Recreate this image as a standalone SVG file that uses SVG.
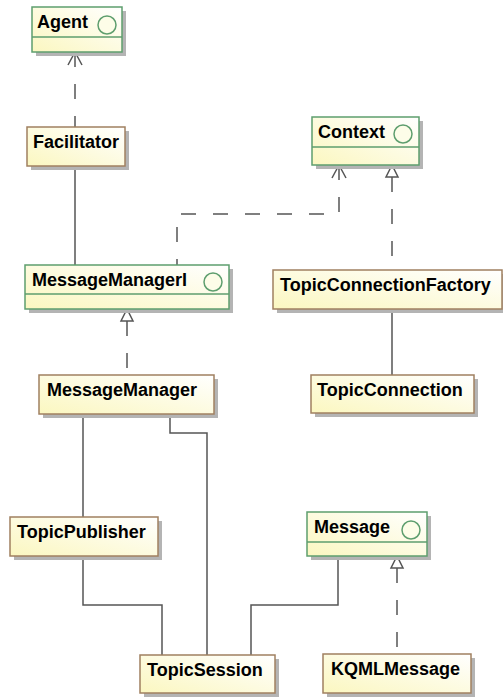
<svg xmlns="http://www.w3.org/2000/svg" width="503" height="697" viewBox="0 0 503 697">
<defs>
<linearGradient id="fill" x1="0" y1="1" x2="1" y2="0">
<stop offset="0" stop-color="#FBF7C0"/>
<stop offset="1" stop-color="#FFFFFF"/>
</linearGradient>
<style>
.box{fill:url(#fill);stroke-width:1.5}
.cls{stroke:#A08060}
.ifc{stroke:#5E9E6E}
.sh{fill:#B4B4B4;stroke:none}
.lbl{font-family:"Liberation Sans",Arial,sans-serif;font-weight:bold;font-size:18px;fill:#000}
.ic{fill:#FDFDE8;stroke:#5E9E6E;stroke-width:1.5}
.ln{fill:none;stroke:#555;stroke-width:1.5}
.dash{stroke-dasharray:15 17}
.head{fill:none;stroke:#555;stroke-width:1.5}
.tri{fill:#fff;stroke:#555;stroke-width:1.5}
</style>
</defs>
<g id="connectors">
<path class="ln dash" d="M75,52 V127"/>
<path class="head" d="M68,65 L75,52 L82,65"/>
<path class="ln" d="M75,166 V265"/>
<path class="ln dash" d="M339,165 V214 H177 V265"/>
<path class="head" d="M332,178 L339,165 L346,178"/>
<path class="ln dash" d="M392,177 V270"/>
<path class="tri" d="M392,165 L386,177 L398,177 Z"/>
<path class="ln" d="M392,309 V375"/>
<path class="ln dash" d="M127,321 V375"/>
<path class="tri" d="M127,309 L121,321 L133,321 Z"/>
<path class="ln" d="M83,414 V517"/>
<path class="ln" d="M170,414 V433 H207 V655"/>
<path class="ln" d="M83,556 V605 H162 V655"/>
<path class="ln" d="M251,655 V605 H338 V556"/>
<path class="ln dash" d="M397,568 V654"/>
<path class="tri" d="M397,556 L391,568 L403,568 Z"/>
</g>
<g id="Agent">
<rect class="sh" x="36" y="11" width="90" height="45"/>
<rect class="box ifc" x="32" y="7" width="90" height="45"/>
<line class="ifc" x1="32" y1="37" x2="122" y2="37" stroke-width="1.5"/>
<text class="lbl" x="37" y="28">Agent</text>
<circle class="ic" cx="107" cy="25" r="9"/>
</g>
<g id="Facilitator">
<rect class="sh" x="31" y="131" width="98" height="39"/>
<rect class="box cls" x="27" y="127" width="98" height="39"/>
<text class="lbl" x="33" y="148">Facilitator</text>
</g>
<g id="Context">
<rect class="sh" x="316" y="121" width="107" height="48"/>
<rect class="box ifc" x="312" y="117" width="107" height="48"/>
<line class="ifc" x1="312" y1="147" x2="419" y2="147" stroke-width="1.5"/>
<text class="lbl" x="318" y="138">Context</text>
<circle class="ic" cx="403" cy="134" r="9"/>
</g>
<g id="MessageManagerI">
<rect class="sh" x="29" y="269" width="204" height="44"/>
<rect class="box ifc" x="25" y="265" width="204" height="44"/>
<line class="ifc" x1="25" y1="294" x2="229" y2="294" stroke-width="1.5"/>
<text class="lbl" x="32" y="286">MessageManagerI</text>
<circle class="ic" cx="213" cy="282" r="9"/>
</g>
<g id="TopicConnectionFactory">
<rect class="sh" x="277" y="274" width="226" height="39"/>
<rect class="box cls" x="273" y="270" width="229" height="39"/>
<text class="lbl" x="280" y="291">TopicConnectionFactory</text>
</g>
<g id="MessageManager">
<rect class="sh" x="43" y="379" width="175" height="39"/>
<rect class="box cls" x="39" y="375" width="175" height="39"/>
<text class="lbl" x="47" y="396">MessageManager</text>
</g>
<g id="TopicConnection">
<rect class="sh" x="315" y="379" width="163" height="38"/>
<rect class="box cls" x="311" y="375" width="163" height="38"/>
<text class="lbl" x="317" y="396">TopicConnection</text>
</g>
<g id="TopicPublisher">
<rect class="sh" x="14" y="521" width="148" height="39"/>
<rect class="box cls" x="10" y="517" width="148" height="39"/>
<text class="lbl" x="17" y="538">TopicPublisher</text>
</g>
<g id="Message">
<rect class="sh" x="311" y="516" width="120" height="44"/>
<rect class="box ifc" x="307" y="512" width="120" height="44"/>
<line class="ifc" x1="307" y1="542" x2="427" y2="542" stroke-width="1.5"/>
<text class="lbl" x="314" y="533">Message</text>
<circle class="ic" cx="411" cy="530" r="9"/>
</g>
<g id="TopicSession">
<rect class="sh" x="144" y="659" width="135" height="38"/>
<rect class="box cls" x="140" y="655" width="135" height="38"/>
<text class="lbl" x="147" y="676">TopicSession</text>
</g>
<g id="KQMLMessage">
<rect class="sh" x="327" y="658" width="148" height="39"/>
<rect class="box cls" x="323" y="654" width="148" height="39"/>
<text class="lbl" x="331" y="675">KQMLMessage</text>
</g>
</svg>
